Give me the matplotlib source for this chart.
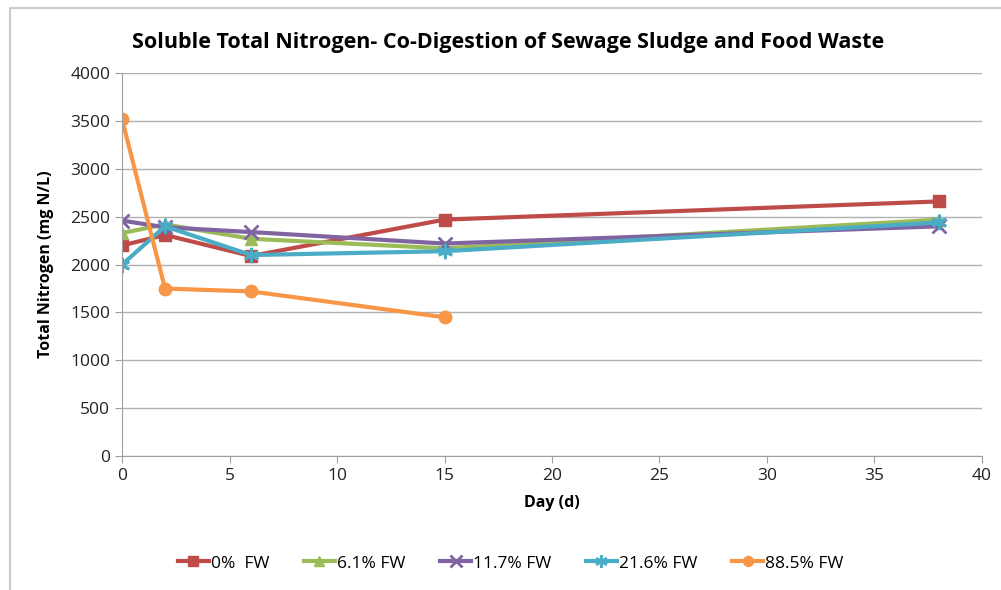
import matplotlib.pyplot as plt
from matplotlib.patches import Rectangle

plt.rcParams['font.family'] = ['Open Sans', 'DejaVu Sans']

days = [0, 2, 6, 15, 38]
days_885 = [0, 2, 6, 15]

fw_0 = [2200, 2310, 2090, 2470, 2660]
fw_61 = [2330, 2420, 2270, 2170, 2470]
fw_117 = [2460, 2390, 2340, 2220, 2400]
fw_216 = [2000, 2400, 2100, 2140, 2440]
fw_885 = [3520, 1750, 1720, 1450]

labels = ['0%  FW', '6.1% FW', '11.7% FW', '21.6% FW', '88.5% FW']

fig = plt.figure(figsize=(10.01, 5.9), dpi=100)
ax = fig.add_axes([0.1219, 0.227, 0.8591, 0.649])

ax.plot(days, fw_0, color='#BE4B48', marker='s', ms=9, lw=3, label=labels[0])
ax.plot(days, fw_61, color='#9BBB59', marker='^', ms=9, lw=3, label=labels[1])
ax.plot(days, fw_117, color='#8064A2', marker='x', ms=10, mew=2, lw=3, label=labels[2])
ax.plot(days, fw_216, color='#4BACC6', marker=(6, 2, 0), ms=11, mew=2, lw=3, label=labels[3])
ax.plot(days_885, fw_885, color='#F79646', marker='o', ms=9, lw=3, label=labels[4])

ax.set_xlim(0, 40)
ax.set_ylim(0, 4000)
ax.set_xticks(range(0, 41, 5))
ax.set_yticks(range(0, 4001, 500))
ax.yaxis.grid(True, color='#b0b0b0', lw=1)
ax.set_axisbelow(True)
for s in ['top', 'right']:
    ax.spines[s].set_visible(False)
for s in ['left', 'bottom']:
    ax.spines[s].set_color('#a0a0a0')
ax.tick_params(axis='both', labelsize=12.5, color='#a0a0a0', length=5, labelcolor='#222222')

ax.set_xlabel('Day (d)', fontsize=11.5, fontweight='bold', labelpad=8)
ax.set_ylabel('Total Nitrogen (mg N/L)', fontsize=11.5, fontweight='bold', labelpad=12)
fig.text(0.508, 0.928, 'Soluble Total Nitrogen- Co-Digestion of Sewage Sludge and Food Waste',
         ha='center', va='center', fontsize=15.5, fontweight='bold')

fig.legend(loc='center', bbox_to_anchor=(0.51, 0.045), ncol=5, frameon=False,
           fontsize=12.5, handlelength=1.8, handletextpad=0.1, columnspacing=2.0,
           markerscale=0.8)

fig.patches.append(Rectangle((0.01, -0.05), 1.2, 1.036, transform=fig.transFigure,
                             fill=False, edgecolor='#cccccc', lw=1.5))

fig.savefig('out.png', dpi=100)
